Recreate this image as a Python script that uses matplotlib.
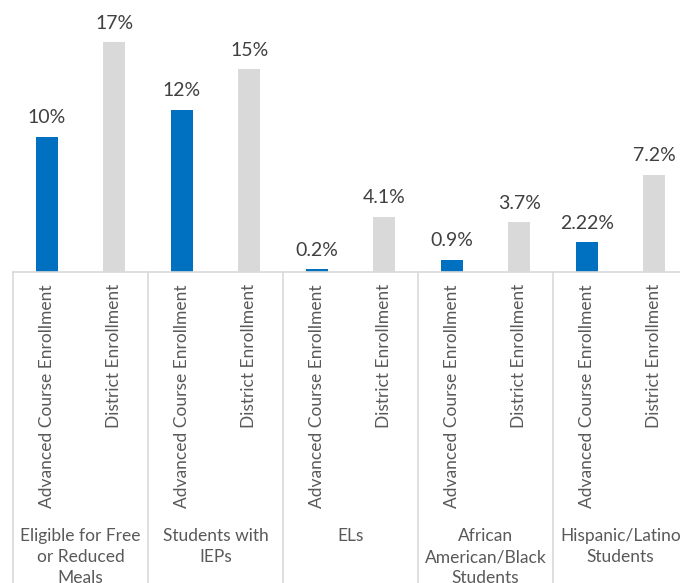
import matplotlib.pyplot as plt
from matplotlib.transforms import blended_transform_factory

plt.rcParams['font.family'] = ['Lato', 'DejaVu Sans']

groups = ["Eligible for Free\nor Reduced\nMeals", "Students with\nIEPs", "ELs",
          "African\nAmerican/Black\nStudents", "Hispanic/Latino\nStudents"]
series = ["Advanced Course Enrollment", "District Enrollment"]
advanced = [10, 12, 0.2, 0.9, 2.22]
district = [17, 15, 4.1, 3.7, 7.2]
advanced_labels = ["10%", "12%", "0.2%", "0.9%", "2.22%"]
district_labels = ["17%", "15%", "4.1%", "3.7%", "7.2%"]

W, H = 680, 583
fig = plt.figure(figsize=(W / 100, H / 100), dpi=100)

base_px = 272          # baseline, pixels from top
left_px = 13
slot_px = 67.5
px_per_pct = 13.53
ymax = 20
ax = fig.add_axes([left_px / W, 1 - base_px / H,
                   slot_px * 10 / W, px_per_pct * ymax / H])
ax.set_xlim(-0.5, 9.5)
ax.set_ylim(0, ymax)
ax.axis('off')

blue = '#0070C0'
grey = '#D9D9D9'
line = '#D9D9D9'
txt = '#595959'

xa = [2 * i for i in range(len(groups))]
xd = [2 * i + 1 for i in range(len(groups))]
bw = 0.33
ax.bar(xa, advanced, width=bw, color=blue)
ax.bar(xd, district, width=bw, color=grey)

for xs, vals, labs in ((xa, advanced, advanced_labels), (xd, district, district_labels)):
    for x, v, s in zip(xs, vals, labs):
        ax.annotate(s, (x, v), xytext=(0, 7.5), textcoords='offset points',
                    ha='center', va='bottom', fontsize=14, color='#404040')

# category axis: baseline, group separators, labels
ax.axhline(0, color=line, lw=1.2, clip_on=False)
tr = blended_transform_factory(ax.transData, fig.transFigure)
for i in range(len(groups) + 1):
    xs = 2 * i - 0.5
    ax.plot([xs, xs], [1 - base_px / H, -0.05], transform=tr,
            color=line, lw=1.2, clip_on=False)

for i in range(len(groups)):
    for j, name in enumerate(series):
        fig.text(2 * i + j, 1 - 284 / H, name, transform=tr, rotation=90,
                 ha='center', va='top', fontsize=12.5, color=txt)
    fig.text(2 * i + 0.5, 1 - 528 / H, groups[i], transform=tr,
             ha='center', va='top', fontsize=12.5, color=txt,
             linespacing=1.4, multialignment='center')

fig.savefig('out.png', dpi=100, facecolor='white')
